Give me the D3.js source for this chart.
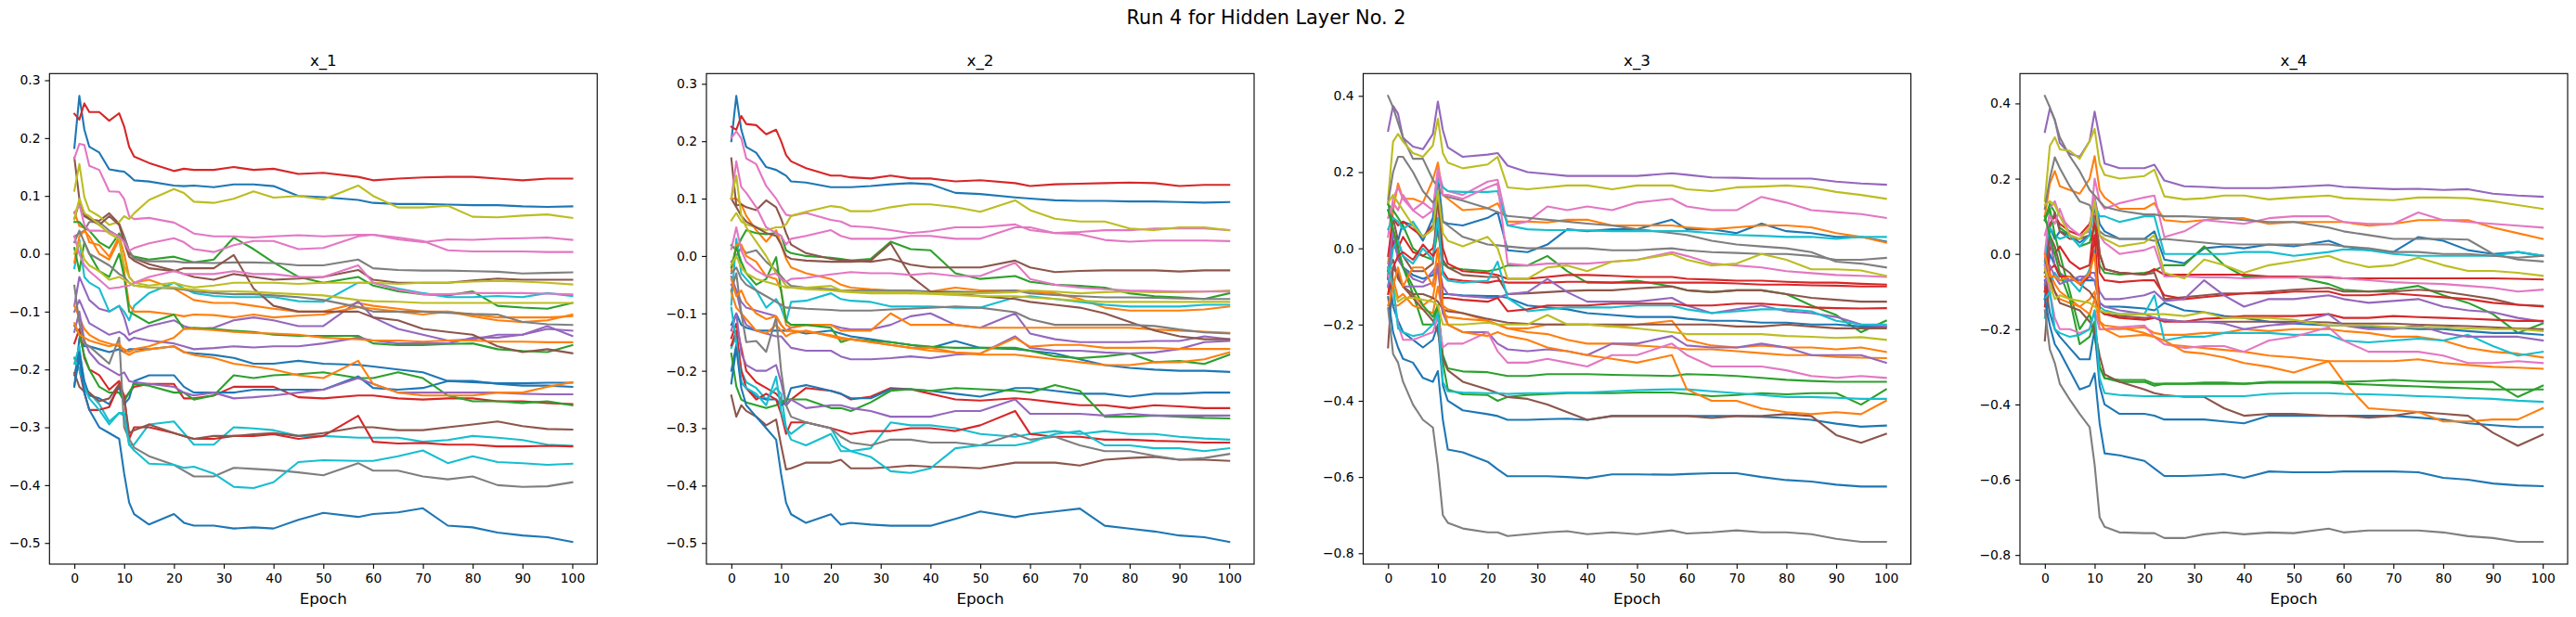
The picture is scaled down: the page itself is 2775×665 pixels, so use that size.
<!DOCTYPE html>
<html>
<head>
<meta charset="utf-8">
<script src="https://cdn.jsdelivr.net/npm/d3@7"></script>
<style>
  body { margin: 0; background: #fff; }
  text { font-family: "DejaVu Sans", sans-serif; }
</style>
</head>
<body>
<svg id="chart" width="2775" height="665"></svg>
<script>
const epochs = [0,1,2,3,5,7,9,10,11,12,15,20,22,24,28,32,36,40,45,50,57,60,65,70,75,80,85,90,95,100];
const xTicks = [0,10,20,30,40,50,60,70,80,90,100];
const yTicksSmall = [-0.5,-0.4,-0.3,-0.2,-0.1,0.0,0.1,0.2,0.3];
const yTicksLarge = [-0.8,-0.6,-0.4,-0.2,0.0,0.2,0.4];
const panelTitles = ["x_1","x_2","x_3","x_4"];
const figTitle = "Run 4 for Hidden Layer No. 2";

// 32 hidden units per panel, in plotting order (colour = tab10[i % 10])
const x1Units = [
  [0.183,0.273,0.215,0.185,0.175,0.146,0.143,0.142,0.135,0.127,0.125,0.118,0.117,0.118,0.115,0.12,0.12,0.117,0.1,0.098,0.093,0.088,0.086,0.086,0.085,0.084,0.084,0.082,0.081,0.082],
  [0.072,0.048,0.045,0.02,0.015,-0.005,0.03,0.0,-0.04,-0.05,-0.045,-0.06,-0.07,-0.08,-0.085,-0.085,-0.09,-0.095,-0.1,-0.1,-0.085,-0.09,-0.095,-0.1,-0.1,-0.105,-0.11,-0.11,-0.11,-0.108],
  [0.055,0.055,0.045,0.04,0.02,0.01,0.035,0.02,0.0,-0.005,-0.01,-0.005,-0.01,-0.015,-0.01,0.028,0.008,-0.015,-0.04,-0.05,-0.04,-0.055,-0.065,-0.07,-0.072,-0.065,-0.09,-0.093,-0.095,-0.085],
  [0.242,0.232,0.26,0.245,0.245,0.23,0.243,0.22,0.185,0.168,0.157,0.143,0.147,0.145,0.145,0.15,0.145,0.147,0.138,0.14,0.133,0.127,0.13,0.132,0.133,0.133,0.13,0.127,0.13,0.13],
  [-0.09,-0.04,-0.06,-0.08,-0.095,-0.1,-0.09,-0.11,-0.14,-0.135,-0.125,-0.115,-0.125,-0.13,-0.128,-0.115,-0.11,-0.115,-0.125,-0.125,-0.082,-0.11,-0.13,-0.14,-0.15,-0.148,-0.14,-0.14,-0.13,-0.133],
  [0.166,0.095,0.065,0.06,0.057,0.07,0.052,0.03,0.003,-0.008,-0.018,-0.029,-0.035,-0.04,-0.045,-0.035,-0.04,-0.045,-0.043,-0.04,-0.028,-0.045,-0.05,-0.05,-0.05,-0.046,-0.043,-0.045,-0.045,-0.045],
  [0.165,0.19,0.188,0.152,0.145,0.108,0.107,0.095,0.065,0.06,0.062,0.054,0.045,0.035,0.03,0.03,0.028,0.03,0.032,0.03,0.033,0.033,0.028,0.022,0.006,0.004,0.004,0.004,0.003,0.003],
  [0.03,0.035,0.04,0.055,0.055,0.04,0.03,0.03,0.005,-0.008,-0.013,-0.013,-0.015,-0.015,-0.016,-0.015,-0.015,-0.016,-0.02,-0.02,-0.01,-0.025,-0.028,-0.029,-0.029,-0.03,-0.031,-0.034,-0.033,-0.032],
  [0.109,0.155,0.098,0.075,0.065,0.05,0.055,0.065,0.06,0.07,0.093,0.112,0.105,0.09,0.088,0.095,0.108,0.097,0.1,0.094,0.118,0.1,0.08,0.08,0.083,0.064,0.063,0.066,0.068,0.062],
  [-0.025,0.025,-0.04,-0.05,-0.06,-0.1,-0.09,-0.1,-0.115,-0.09,-0.068,-0.05,-0.06,-0.068,-0.073,-0.075,-0.075,-0.075,-0.082,-0.083,-0.05,-0.05,-0.06,-0.068,-0.075,-0.075,-0.073,-0.075,-0.068,-0.073],
  [-0.23,-0.146,-0.16,-0.16,-0.165,-0.17,-0.165,-0.17,-0.165,-0.165,-0.165,-0.16,-0.17,-0.172,-0.175,-0.18,-0.19,-0.19,-0.185,-0.19,-0.192,-0.195,-0.2,-0.205,-0.22,-0.222,-0.224,-0.224,-0.223,-0.223],
  [-0.015,0.03,0.04,0.03,0.0,-0.01,0.025,-0.03,-0.088,-0.1,-0.1,-0.105,-0.108,-0.105,-0.106,-0.11,-0.105,-0.11,-0.107,-0.105,-0.092,-0.095,-0.1,-0.105,-0.1,-0.108,-0.115,-0.118,-0.115,-0.105],
  [0.01,-0.03,0.02,0.0,-0.03,-0.04,0.0,-0.04,-0.1,-0.105,-0.12,-0.105,-0.13,-0.128,-0.13,-0.133,-0.135,-0.14,-0.142,-0.142,-0.142,-0.155,-0.158,-0.158,-0.156,-0.155,-0.165,-0.168,-0.17,-0.158],
  [-0.155,-0.13,-0.18,-0.2,-0.21,-0.235,-0.22,-0.25,-0.24,-0.23,-0.225,-0.225,-0.25,-0.25,-0.245,-0.23,-0.23,-0.23,-0.248,-0.25,-0.245,-0.245,-0.25,-0.252,-0.25,-0.25,-0.255,-0.255,-0.258,-0.26],
  [-0.1,-0.08,-0.1,-0.12,-0.13,-0.14,-0.135,-0.14,-0.15,-0.145,-0.15,-0.155,-0.16,-0.165,-0.163,-0.16,-0.162,-0.16,-0.16,-0.155,-0.145,-0.15,-0.155,-0.155,-0.155,-0.145,-0.145,-0.14,-0.125,-0.142],
  [0.06,0.09,0.07,0.06,0.05,0.065,0.05,0.02,-0.005,-0.012,-0.025,-0.03,-0.025,-0.025,-0.025,-0.002,-0.06,-0.09,-0.1,-0.1,-0.1,-0.11,-0.115,-0.13,-0.135,-0.14,-0.16,-0.17,-0.165,-0.172],
  [0.07,0.085,0.05,0.04,0.04,0.038,0.03,0.02,0.005,0.01,0.018,0.027,0.02,0.008,0.003,0.015,0.022,0.022,0.008,0.01,0.03,0.033,0.025,0.02,0.025,0.024,0.026,0.027,0.028,0.024],
  [0.02,0.04,0.02,0.0,-0.01,-0.02,-0.035,-0.04,-0.05,-0.055,-0.058,-0.06,-0.062,-0.065,-0.068,-0.07,-0.07,-0.072,-0.075,-0.08,-0.092,-0.1,-0.1,-0.1,-0.102,-0.104,-0.105,-0.118,-0.122,-0.123],
  [0.06,0.095,0.07,0.065,0.05,0.035,0.025,-0.02,-0.04,-0.05,-0.055,-0.05,-0.055,-0.058,-0.055,-0.05,-0.05,-0.05,-0.052,-0.05,-0.05,-0.05,-0.052,-0.05,-0.05,-0.048,-0.047,-0.048,-0.05,-0.053],
  [-0.19,-0.16,-0.23,-0.24,-0.26,-0.29,-0.275,-0.28,-0.33,-0.33,-0.295,-0.29,-0.31,-0.33,-0.33,-0.3,-0.302,-0.305,-0.315,-0.315,-0.318,-0.318,-0.318,-0.325,-0.322,-0.315,-0.318,-0.322,-0.33,-0.332],
  [-0.21,-0.17,-0.22,-0.245,-0.25,-0.26,-0.23,-0.26,-0.25,-0.22,-0.21,-0.21,-0.23,-0.24,-0.24,-0.24,-0.235,-0.235,-0.235,-0.235,-0.212,-0.232,-0.235,-0.232,-0.22,-0.22,-0.225,-0.228,-0.228,-0.23],
  [-0.09,-0.11,-0.13,-0.14,-0.15,-0.155,-0.16,-0.165,-0.17,-0.165,-0.16,-0.145,-0.13,-0.13,-0.132,-0.135,-0.137,-0.138,-0.14,-0.145,-0.148,-0.15,-0.15,-0.152,-0.15,-0.15,-0.152,-0.152,-0.153,-0.153],
  [-0.124,-0.14,-0.176,-0.2,-0.23,-0.24,-0.24,-0.255,-0.24,-0.225,-0.228,-0.24,-0.24,-0.252,-0.245,-0.21,-0.215,-0.21,-0.208,-0.205,-0.215,-0.215,-0.205,-0.215,-0.245,-0.255,-0.255,-0.258,-0.255,-0.262],
  [-0.18,-0.2,-0.24,-0.27,-0.27,-0.265,-0.225,-0.245,-0.32,-0.3,-0.3,-0.31,-0.315,-0.32,-0.32,-0.315,-0.315,-0.312,-0.32,-0.315,-0.28,-0.325,-0.328,-0.327,-0.33,-0.33,-0.333,-0.333,-0.332,-0.333],
  [-0.135,-0.1,-0.15,-0.17,-0.19,-0.2,-0.21,-0.205,-0.22,-0.222,-0.225,-0.23,-0.24,-0.245,-0.24,-0.25,-0.248,-0.245,-0.24,-0.235,-0.215,-0.225,-0.24,-0.24,-0.24,-0.24,-0.24,-0.242,-0.243,-0.243],
  [-0.206,-0.23,-0.238,-0.24,-0.255,-0.25,-0.225,-0.25,-0.31,-0.305,-0.295,-0.31,-0.315,-0.32,-0.315,-0.315,-0.312,-0.31,-0.315,-0.31,-0.3,-0.3,-0.305,-0.305,-0.3,-0.295,-0.29,-0.298,-0.303,-0.304],
  [0.03,0.0,-0.02,-0.03,-0.045,-0.06,-0.058,-0.056,-0.055,-0.05,-0.04,-0.03,-0.035,-0.035,-0.035,-0.03,-0.035,-0.035,-0.04,-0.04,-0.02,-0.05,-0.062,-0.07,-0.07,-0.068,-0.068,-0.068,-0.069,-0.07],
  [-0.055,-0.12,-0.155,-0.16,-0.175,-0.19,-0.145,-0.3,-0.32,-0.335,-0.35,-0.365,-0.375,-0.385,-0.385,-0.37,-0.372,-0.374,-0.378,-0.383,-0.362,-0.375,-0.375,-0.385,-0.39,-0.385,-0.4,-0.403,-0.402,-0.395],
  [0.0,0.02,-0.01,-0.02,-0.03,-0.045,-0.04,-0.045,-0.05,-0.055,-0.058,-0.058,-0.06,-0.062,-0.065,-0.065,-0.066,-0.068,-0.07,-0.072,-0.08,-0.082,-0.083,-0.085,-0.085,-0.085,-0.085,-0.085,-0.085,-0.085],
  [-0.18,-0.2,-0.23,-0.25,-0.27,-0.295,-0.275,-0.275,-0.33,-0.34,-0.363,-0.365,-0.37,-0.368,-0.38,-0.403,-0.405,-0.395,-0.36,-0.357,-0.358,-0.358,-0.35,-0.34,-0.362,-0.35,-0.36,-0.362,-0.365,-0.363],
  [-0.228,-0.18,-0.24,-0.27,-0.3,-0.31,-0.32,-0.38,-0.43,-0.45,-0.468,-0.45,-0.465,-0.47,-0.47,-0.475,-0.473,-0.475,-0.46,-0.448,-0.455,-0.45,-0.447,-0.44,-0.47,-0.473,-0.482,-0.487,-0.49,-0.498],
  [-0.12,-0.14,-0.145,-0.15,-0.155,-0.16,-0.155,-0.17,-0.175,-0.17,-0.165,-0.16,-0.17,-0.175,-0.18,-0.19,-0.195,-0.2,-0.21,-0.215,-0.185,-0.225,-0.24,-0.245,-0.245,-0.245,-0.24,-0.24,-0.23,-0.222]
];

const x2Units = [
  [0.2,0.279,0.22,0.19,0.18,0.155,0.15,0.145,0.14,0.13,0.128,0.12,0.12,0.12,0.122,0.125,0.127,0.125,0.11,0.108,0.102,0.1,0.097,0.096,0.096,0.095,0.095,0.094,0.093,0.094],
  [0.1,0.1,0.09,0.07,0.045,0.025,0.045,0.02,-0.005,-0.02,-0.03,-0.04,-0.05,-0.055,-0.058,-0.06,-0.065,-0.062,-0.055,-0.06,-0.06,-0.062,-0.065,-0.075,-0.09,-0.095,-0.095,-0.095,-0.093,-0.088],
  [0.019,0.01,0.03,0.045,0.04,0.038,0.04,0.035,0.01,0.005,0.0,-0.003,-0.005,-0.008,-0.005,0.025,0.012,0.01,-0.03,-0.04,-0.035,-0.045,-0.05,-0.052,-0.055,-0.065,-0.07,-0.072,-0.075,-0.065],
  [0.225,0.22,0.244,0.23,0.228,0.212,0.22,0.2,0.176,0.165,0.153,0.14,0.14,0.137,0.135,0.14,0.135,0.135,0.13,0.132,0.127,0.122,0.125,0.126,0.127,0.128,0.127,0.122,0.124,0.124],
  [-0.036,-0.06,-0.08,-0.09,-0.095,-0.1,-0.105,-0.12,-0.13,-0.125,-0.12,-0.12,-0.125,-0.128,-0.128,-0.12,-0.105,-0.1,-0.12,-0.125,-0.1,-0.135,-0.145,-0.15,-0.15,-0.15,-0.148,-0.148,-0.14,-0.145],
  [0.17,0.088,0.09,0.085,0.08,0.097,0.085,0.065,0.04,0.02,0.005,-0.005,-0.007,-0.008,-0.01,-0.005,-0.015,-0.02,-0.02,-0.02,-0.008,-0.02,-0.028,-0.026,-0.025,-0.025,-0.025,-0.027,-0.025,-0.025],
  [0.206,0.217,0.205,0.17,0.16,0.122,0.1,0.085,0.072,0.07,0.075,0.063,0.06,0.052,0.05,0.045,0.04,0.043,0.05,0.05,0.055,0.045,0.04,0.042,0.045,0.045,0.048,0.048,0.048,0.045],
  [-0.01,0.0,0.015,0.005,0.01,-0.01,-0.025,-0.035,-0.045,-0.052,-0.055,-0.058,-0.06,-0.06,-0.06,-0.06,-0.06,-0.062,-0.062,-0.063,-0.06,-0.065,-0.068,-0.07,-0.072,-0.072,-0.073,-0.074,-0.075,-0.075],
  [0.062,0.075,0.06,0.055,0.05,0.045,0.05,0.05,0.055,0.07,0.077,0.087,0.085,0.078,0.078,0.085,0.09,0.09,0.085,0.077,0.097,0.08,0.065,0.06,0.06,0.048,0.045,0.05,0.05,0.045],
  [-0.085,0.03,-0.03,-0.04,-0.06,-0.09,-0.075,-0.09,-0.115,-0.08,-0.078,-0.065,-0.075,-0.078,-0.08,-0.088,-0.088,-0.088,-0.09,-0.09,-0.072,-0.07,-0.075,-0.08,-0.085,-0.088,-0.088,-0.088,-0.085,-0.085],
  [-0.12,-0.1,-0.12,-0.125,-0.13,-0.13,-0.13,-0.13,-0.13,-0.13,-0.135,-0.13,-0.135,-0.14,-0.145,-0.15,-0.155,-0.16,-0.148,-0.16,-0.162,-0.165,-0.17,-0.18,-0.19,-0.195,-0.198,-0.2,-0.2,-0.202],
  [-0.026,0.02,0.02,0.0,-0.01,-0.035,-0.04,-0.06,-0.12,-0.125,-0.12,-0.12,-0.13,-0.13,-0.13,-0.1,-0.12,-0.12,-0.12,-0.125,-0.125,-0.125,-0.125,-0.125,-0.125,-0.125,-0.128,-0.13,-0.132,-0.134],
  [-0.02,0.015,-0.01,-0.03,-0.05,-0.04,-0.002,-0.06,-0.113,-0.12,-0.12,-0.125,-0.15,-0.145,-0.148,-0.15,-0.155,-0.158,-0.16,-0.16,-0.16,-0.165,-0.175,-0.178,-0.175,-0.17,-0.185,-0.183,-0.188,-0.172],
  [-0.143,-0.118,-0.16,-0.2,-0.22,-0.23,-0.24,-0.25,-0.26,-0.25,-0.23,-0.235,-0.24,-0.25,-0.245,-0.23,-0.232,-0.24,-0.25,-0.252,-0.248,-0.25,-0.255,-0.26,-0.26,-0.265,-0.26,-0.262,-0.265,-0.265],
  [-0.05,-0.06,-0.1,-0.12,-0.13,-0.135,-0.14,-0.14,-0.15,-0.16,-0.165,-0.165,-0.175,-0.18,-0.18,-0.178,-0.175,-0.178,-0.172,-0.17,-0.14,-0.16,-0.165,-0.165,-0.168,-0.17,-0.168,-0.162,-0.15,-0.148],
  [0.1,0.085,0.07,0.06,0.05,0.04,0.035,0.02,0.0,-0.005,-0.008,-0.01,-0.01,-0.01,-0.008,0.022,-0.035,-0.062,-0.065,-0.07,-0.075,-0.08,-0.085,-0.09,-0.1,-0.115,-0.13,-0.14,-0.145,-0.145],
  [0.1,0.165,0.12,0.11,0.085,0.05,0.04,0.035,0.02,0.03,0.035,0.045,0.035,0.03,0.03,0.03,0.035,0.035,0.03,0.03,0.05,0.05,0.04,0.038,0.028,0.025,0.027,0.027,0.027,0.026],
  [-0.03,-0.02,-0.04,-0.05,-0.06,-0.07,-0.08,-0.085,-0.09,-0.09,-0.092,-0.094,-0.095,-0.095,-0.095,-0.093,-0.092,-0.09,-0.088,-0.09,-0.098,-0.11,-0.12,-0.12,-0.12,-0.12,-0.122,-0.128,-0.133,-0.135],
  [0.1,0.14,0.07,0.05,0.025,0.0,-0.03,-0.04,-0.052,-0.055,-0.055,-0.052,-0.06,-0.062,-0.063,-0.063,-0.063,-0.065,-0.065,-0.065,-0.063,-0.06,-0.062,-0.065,-0.063,-0.062,-0.063,-0.063,-0.062,-0.06],
  [-0.16,-0.14,-0.2,-0.22,-0.23,-0.25,-0.23,-0.24,-0.3,-0.31,-0.29,-0.3,-0.33,-0.34,-0.335,-0.29,-0.295,-0.295,-0.3,-0.31,-0.315,-0.31,-0.305,-0.31,-0.305,-0.31,-0.31,-0.315,-0.318,-0.32],
  [-0.2,-0.155,-0.22,-0.23,-0.245,-0.25,-0.25,-0.26,-0.255,-0.23,-0.225,-0.235,-0.24,-0.248,-0.248,-0.232,-0.232,-0.235,-0.24,-0.245,-0.23,-0.23,-0.235,-0.24,-0.24,-0.245,-0.24,-0.24,-0.238,-0.238],
  [-0.063,-0.09,-0.1,-0.11,-0.13,-0.135,-0.12,-0.13,-0.14,-0.135,-0.13,-0.14,-0.145,-0.145,-0.15,-0.155,-0.16,-0.165,-0.168,-0.17,-0.143,-0.158,-0.155,-0.155,-0.16,-0.16,-0.16,-0.162,-0.162,-0.162],
  [-0.17,-0.227,-0.25,-0.255,-0.26,-0.265,-0.26,-0.255,-0.25,-0.25,-0.25,-0.265,-0.265,-0.27,-0.255,-0.235,-0.232,-0.235,-0.23,-0.232,-0.235,-0.238,-0.225,-0.235,-0.28,-0.28,-0.278,-0.28,-0.282,-0.283],
  [-0.156,-0.13,-0.2,-0.23,-0.25,-0.24,-0.25,-0.275,-0.31,-0.29,-0.29,-0.3,-0.305,-0.31,-0.305,-0.305,-0.3,-0.3,-0.305,-0.295,-0.27,-0.31,-0.315,-0.315,-0.32,-0.32,-0.322,-0.323,-0.325,-0.325],
  [-0.13,-0.1,-0.17,-0.19,-0.2,-0.2,-0.19,-0.22,-0.26,-0.25,-0.265,-0.26,-0.26,-0.265,-0.27,-0.28,-0.28,-0.28,-0.27,-0.27,-0.25,-0.275,-0.275,-0.275,-0.278,-0.275,-0.278,-0.278,-0.278,-0.278],
  [-0.243,-0.28,-0.26,-0.27,-0.28,-0.295,-0.285,-0.33,-0.372,-0.37,-0.36,-0.36,-0.355,-0.37,-0.37,-0.368,-0.365,-0.367,-0.368,-0.37,-0.36,-0.36,-0.36,-0.365,-0.355,-0.352,-0.35,-0.355,-0.355,-0.357],
  [0.012,0.05,0.01,-0.01,-0.025,-0.035,-0.03,-0.04,-0.045,-0.04,-0.038,-0.032,-0.03,-0.028,-0.03,-0.03,-0.033,-0.03,-0.035,-0.035,-0.012,-0.04,-0.05,-0.055,-0.058,-0.06,-0.061,-0.062,-0.062,-0.062],
  [-0.06,-0.03,-0.1,-0.15,-0.148,-0.167,-0.107,-0.2,-0.26,-0.28,-0.29,-0.3,-0.315,-0.325,-0.33,-0.32,-0.32,-0.325,-0.325,-0.33,-0.31,-0.32,-0.315,-0.33,-0.34,-0.34,-0.348,-0.355,-0.352,-0.345],
  [-0.015,0.0,-0.02,-0.03,-0.04,-0.045,-0.05,-0.052,-0.055,-0.055,-0.058,-0.06,-0.062,-0.063,-0.065,-0.065,-0.065,-0.066,-0.068,-0.07,-0.07,-0.072,-0.075,-0.078,-0.08,-0.08,-0.08,-0.08,-0.08,-0.08],
  [-0.09,-0.15,-0.22,-0.23,-0.24,-0.26,-0.21,-0.27,-0.3,-0.32,-0.33,-0.31,-0.34,-0.34,-0.35,-0.375,-0.378,-0.37,-0.335,-0.33,-0.33,-0.325,-0.31,-0.305,-0.33,-0.33,-0.335,-0.335,-0.34,-0.335],
  [-0.222,-0.16,-0.23,-0.26,-0.28,-0.3,-0.32,-0.38,-0.43,-0.45,-0.465,-0.45,-0.468,-0.465,-0.468,-0.47,-0.47,-0.47,-0.458,-0.445,-0.455,-0.45,-0.445,-0.44,-0.47,-0.475,-0.48,-0.487,-0.49,-0.498],
  [-0.04,-0.07,-0.06,-0.08,-0.1,-0.11,-0.105,-0.12,-0.13,-0.13,-0.132,-0.138,-0.142,-0.145,-0.15,-0.155,-0.16,-0.16,-0.168,-0.172,-0.172,-0.175,-0.18,-0.185,-0.19,-0.19,-0.185,-0.185,-0.18,-0.168]
];

const x3Units = [
  [-0.08,0.04,0.02,0.07,0.06,0.02,0.08,0.19,0.07,0.065,0.06,0.08,0.095,-0.005,-0.01,0.01,0.05,0.045,0.05,0.05,0.075,0.05,0.05,0.04,0.065,0.045,0.04,0.03,0.03,0.018],
  [-0.04,0.1,0.17,0.13,0.13,0.12,0.18,0.225,0.14,0.13,0.1,0.105,0.118,0.07,0.07,0.068,0.075,0.075,0.06,0.06,0.06,0.055,0.05,0.055,0.06,0.06,0.055,0.04,0.03,0.015],
  [0.115,0.1,0.08,0.06,0.0,-0.02,-0.03,0.05,-0.04,-0.05,-0.055,-0.06,-0.055,-0.045,-0.045,-0.02,-0.06,-0.09,-0.09,-0.085,-0.1,-0.11,-0.115,-0.11,-0.11,-0.12,-0.15,-0.175,-0.22,-0.19],
  [-0.02,0.08,0.06,0.07,0.05,0.03,0.06,0.12,0.0,-0.04,-0.06,-0.065,-0.07,-0.08,-0.08,-0.075,-0.07,-0.07,-0.072,-0.075,-0.075,-0.08,-0.082,-0.085,-0.085,-0.088,-0.09,-0.09,-0.093,-0.095],
  [0.308,0.374,0.353,0.29,0.267,0.26,0.3,0.385,0.31,0.265,0.24,0.246,0.25,0.217,0.2,0.195,0.19,0.19,0.19,0.19,0.197,0.193,0.186,0.185,0.183,0.183,0.183,0.175,0.17,0.167],
  [0.1,0.08,0.02,-0.02,-0.06,-0.06,-0.04,0.14,-0.03,-0.05,-0.07,-0.075,-0.075,-0.12,-0.118,-0.115,-0.112,-0.11,-0.11,-0.105,-0.1,-0.11,-0.115,-0.11,-0.11,-0.12,-0.13,-0.135,-0.14,-0.14],
  [0.03,0.13,0.16,0.13,0.1,0.12,0.1,0.21,0.16,0.15,0.14,0.175,0.18,0.06,0.07,0.11,0.1,0.11,0.1,0.12,0.13,0.11,0.1,0.1,0.135,0.12,0.1,0.095,0.09,0.08],
  [0.4,0.37,0.33,0.29,0.235,0.235,0.18,0.16,0.14,0.135,0.125,0.105,0.095,0.085,0.08,0.075,0.07,0.065,0.06,0.05,0.04,0.035,0.02,0.01,0.005,0.0,-0.01,-0.035,-0.04,-0.05],
  [0.13,0.28,0.3,0.28,0.25,0.24,0.27,0.34,0.25,0.225,0.21,0.22,0.24,0.16,0.155,0.16,0.165,0.165,0.155,0.165,0.165,0.155,0.15,0.16,0.162,0.165,0.16,0.148,0.14,0.13],
  [0.05,0.08,0.07,0.05,0.07,0.03,0.05,0.18,0.16,0.15,0.148,0.148,0.15,0.06,0.05,0.048,0.048,0.047,0.045,0.045,0.045,0.045,0.04,0.035,0.033,0.03,0.03,0.025,0.03,0.03],
  [-0.07,0.02,-0.02,-0.05,-0.07,-0.08,-0.07,-0.05,-0.12,-0.12,-0.123,-0.125,-0.125,-0.13,-0.15,-0.155,-0.16,-0.17,-0.175,-0.18,-0.18,-0.185,-0.19,-0.19,-0.195,-0.195,-0.2,-0.2,-0.205,-0.205],
  [-0.1,-0.15,-0.15,-0.14,-0.12,-0.15,-0.13,-0.05,-0.15,-0.16,-0.17,-0.19,-0.2,-0.21,-0.21,-0.2,-0.2,-0.2,-0.205,-0.2,-0.19,-0.24,-0.255,-0.26,-0.255,-0.26,-0.26,-0.265,-0.26,-0.272],
  [0.12,0.05,0.0,-0.05,-0.12,-0.2,-0.2,-0.15,-0.28,-0.315,-0.323,-0.325,-0.33,-0.335,-0.335,-0.33,-0.33,-0.33,-0.332,-0.333,-0.335,-0.33,-0.332,-0.335,-0.34,-0.345,-0.348,-0.35,-0.35,-0.35],
  [-0.08,0.02,0.0,0.03,-0.01,-0.02,0.0,0.06,-0.06,-0.08,-0.085,-0.09,-0.085,-0.09,-0.09,-0.09,-0.088,-0.088,-0.09,-0.09,-0.09,-0.09,-0.09,-0.092,-0.095,-0.095,-0.097,-0.098,-0.1,-0.1],
  [-0.06,0.05,-0.03,-0.05,-0.08,-0.09,-0.06,-0.04,-0.1,-0.12,-0.125,-0.13,-0.13,-0.12,-0.115,-0.08,-0.115,-0.14,-0.14,-0.14,-0.13,-0.15,-0.17,-0.16,-0.15,-0.165,-0.17,-0.18,-0.2,-0.205],
  [-0.06,-0.03,-0.08,-0.1,-0.12,-0.12,-0.13,-0.14,-0.16,-0.165,-0.17,-0.185,-0.19,-0.195,-0.198,-0.2,-0.2,-0.2,-0.2,-0.2,-0.2,-0.2,-0.2,-0.205,-0.205,-0.2,-0.205,-0.21,-0.21,-0.21],
  [0.08,0.12,0.1,0.14,0.1,0.08,0.1,0.2,0.14,0.14,0.13,0.16,0.17,-0.04,-0.045,-0.04,-0.04,-0.04,-0.035,-0.03,-0.01,-0.02,-0.04,-0.045,-0.05,-0.06,-0.065,-0.07,-0.072,-0.075],
  [0.12,0.2,0.24,0.24,0.2,0.15,0.12,0.14,0.07,0.06,0.03,0.01,0.008,0.005,0.0,0.0,0.0,0.0,-0.005,-0.005,0.0,-0.005,-0.01,-0.012,-0.015,-0.015,-0.02,-0.03,-0.03,-0.025],
  [0.12,0.14,0.12,0.1,0.06,0.03,0.05,0.15,0.04,0.02,0.005,0.03,0.0,-0.08,-0.08,-0.05,-0.045,-0.06,-0.035,-0.03,-0.015,-0.03,-0.045,-0.04,-0.015,-0.03,-0.055,-0.055,-0.058,-0.072],
  [-0.1,0.0,0.02,-0.02,-0.04,0.0,-0.03,0.08,-0.07,-0.085,-0.09,-0.085,-0.035,-0.13,-0.165,-0.16,-0.155,-0.155,-0.155,-0.15,-0.15,-0.16,-0.17,-0.165,-0.16,-0.16,-0.165,-0.19,-0.2,-0.2],
  [-0.05,-0.153,-0.19,-0.22,-0.24,-0.26,-0.24,-0.2,-0.36,-0.4,-0.425,-0.435,-0.44,-0.45,-0.45,-0.448,-0.447,-0.45,-0.44,-0.44,-0.44,-0.44,-0.44,-0.44,-0.442,-0.445,-0.45,-0.46,-0.468,-0.465],
  [-0.05,-0.08,-0.13,-0.12,-0.15,-0.16,-0.17,-0.1,-0.17,-0.18,-0.185,-0.19,-0.2,-0.21,-0.22,-0.225,-0.24,-0.25,-0.25,-0.255,-0.26,-0.265,-0.265,-0.27,-0.275,-0.28,-0.28,-0.285,-0.287,-0.288],
  [0.1,0.05,0.0,-0.05,-0.1,-0.15,-0.18,-0.15,-0.3,-0.37,-0.383,-0.385,-0.4,-0.39,-0.385,-0.382,-0.38,-0.38,-0.38,-0.378,-0.378,-0.382,-0.388,-0.385,-0.38,-0.383,-0.38,-0.38,-0.41,-0.37],
  [-0.12,-0.05,-0.02,-0.01,-0.03,0.01,-0.02,0.0,-0.13,-0.13,-0.135,-0.14,-0.13,-0.165,-0.16,-0.15,-0.15,-0.15,-0.145,-0.145,-0.145,-0.15,-0.15,-0.145,-0.145,-0.15,-0.155,-0.157,-0.158,-0.157],
  [-0.1,-0.05,-0.06,-0.1,-0.1,-0.1,-0.09,-0.05,-0.17,-0.2,-0.22,-0.22,-0.25,-0.265,-0.27,-0.265,-0.27,-0.28,-0.25,-0.25,-0.23,-0.255,-0.26,-0.26,-0.25,-0.26,-0.28,-0.28,-0.28,-0.3],
  [-0.26,-0.05,-0.07,-0.1,-0.13,-0.16,-0.19,-0.22,-0.29,-0.32,-0.35,-0.37,-0.38,-0.39,-0.395,-0.41,-0.43,-0.45,-0.44,-0.44,-0.44,-0.44,-0.445,-0.44,-0.44,-0.435,-0.44,-0.49,-0.51,-0.487],
  [-0.07,-0.1,-0.2,-0.24,-0.24,-0.23,-0.22,-0.18,-0.26,-0.25,-0.25,-0.22,-0.27,-0.3,-0.3,-0.29,-0.3,-0.31,-0.28,-0.28,-0.25,-0.28,-0.31,-0.31,-0.31,-0.32,-0.335,-0.34,-0.335,-0.34],
  [-0.157,-0.277,-0.3,-0.35,-0.41,-0.45,-0.47,-0.57,-0.7,-0.72,-0.735,-0.745,-0.745,-0.755,-0.75,-0.745,-0.742,-0.75,-0.745,-0.75,-0.74,-0.748,-0.745,-0.74,-0.745,-0.745,-0.75,-0.762,-0.77,-0.77],
  [-0.05,-0.1,-0.14,-0.13,-0.13,-0.135,-0.14,-0.15,-0.2,-0.2,-0.2,-0.195,-0.2,-0.2,-0.2,-0.175,-0.2,-0.2,-0.205,-0.21,-0.22,-0.225,-0.225,-0.225,-0.225,-0.23,-0.232,-0.235,-0.233,-0.24],
  [-0.05,-0.1,-0.21,-0.22,-0.23,-0.225,-0.2,-0.17,-0.35,-0.375,-0.378,-0.38,-0.38,-0.382,-0.38,-0.38,-0.378,-0.378,-0.375,-0.372,-0.37,-0.37,-0.375,-0.38,-0.385,-0.39,-0.39,-0.392,-0.395,-0.395],
  [-0.128,-0.22,-0.26,-0.29,-0.3,-0.34,-0.35,-0.322,-0.45,-0.528,-0.535,-0.56,-0.58,-0.598,-0.598,-0.598,-0.6,-0.603,-0.593,-0.593,-0.594,-0.592,-0.59,-0.59,-0.6,-0.608,-0.612,-0.62,-0.625,-0.625],
  [-0.15,-0.1,-0.05,-0.1,-0.05,-0.05,-0.1,0.0,-0.15,-0.2,-0.22,-0.23,-0.22,-0.23,-0.24,-0.26,-0.27,-0.28,-0.29,-0.3,-0.28,-0.37,-0.4,-0.4,-0.42,-0.43,-0.435,-0.43,-0.435,-0.4]
];

const x4Units = [
  [-0.1,0.07,0.04,0.06,0.05,0.03,0.05,0.15,0.08,0.06,0.04,0.04,0.06,-0.015,-0.025,0.015,0.02,0.015,0.025,0.02,0.035,0.02,0.01,0.005,0.045,0.035,0.01,0.0,0.005,-0.005],
  [0.1,0.187,0.22,0.18,0.17,0.16,0.2,0.26,0.17,0.15,0.12,0.12,0.135,0.09,0.085,0.09,0.095,0.095,0.08,0.085,0.085,0.085,0.075,0.08,0.09,0.09,0.09,0.07,0.055,0.04],
  [0.09,0.133,0.11,0.07,0.05,0.02,0.03,0.08,-0.03,-0.05,-0.055,-0.05,-0.045,-0.03,-0.03,0.02,-0.03,-0.06,-0.06,-0.06,-0.08,-0.095,-0.1,-0.095,-0.085,-0.11,-0.13,-0.16,-0.21,-0.185],
  [-0.02,0.08,0.1,0.08,0.06,0.05,0.08,0.13,0.0,-0.04,-0.05,-0.055,-0.04,-0.055,-0.055,-0.055,-0.055,-0.055,-0.06,-0.06,-0.062,-0.065,-0.065,-0.065,-0.065,-0.065,-0.065,-0.065,-0.066,-0.068],
  [0.324,0.386,0.357,0.295,0.266,0.258,0.3,0.378,0.31,0.24,0.228,0.228,0.237,0.195,0.18,0.178,0.175,0.175,0.175,0.178,0.183,0.178,0.175,0.172,0.173,0.17,0.172,0.16,0.155,0.152],
  [0.09,0.07,0.11,0.06,0.04,0.04,0.05,0.15,0.0,-0.04,-0.05,-0.055,-0.05,-0.12,-0.115,-0.11,-0.105,-0.105,-0.1,-0.095,-0.09,-0.1,-0.1,-0.1,-0.095,-0.1,-0.11,-0.12,-0.135,-0.138],
  [0.0,0.12,0.14,0.1,0.07,0.05,0.06,0.2,0.14,0.12,0.135,0.15,0.155,0.045,0.06,0.09,0.085,0.08,0.095,0.1,0.1,0.085,0.08,0.08,0.11,0.09,0.085,0.08,0.075,0.07],
  [0.42,0.39,0.355,0.31,0.26,0.22,0.17,0.155,0.14,0.125,0.115,0.105,0.105,0.1,0.1,0.098,0.095,0.09,0.085,0.085,0.07,0.06,0.05,0.04,0.04,0.04,0.038,0.0,-0.015,-0.02],
  [0.14,0.287,0.31,0.278,0.274,0.253,0.3,0.332,0.24,0.21,0.2,0.207,0.224,0.153,0.145,0.148,0.155,0.155,0.145,0.15,0.155,0.148,0.145,0.143,0.15,0.15,0.148,0.14,0.13,0.12],
  [-0.03,0.07,0.05,0.04,0.05,0.02,0.05,0.13,0.1,0.1,0.085,0.1,0.1,0.0,0.0,0.0,0.0,0.005,0.005,-0.005,0.005,0.012,0.01,0.0,-0.005,-0.005,-0.005,-0.005,0.005,-0.005],
  [-0.12,0.0,-0.03,-0.06,-0.06,-0.07,-0.07,-0.07,-0.13,-0.14,-0.14,-0.145,-0.15,-0.13,-0.15,-0.155,-0.165,-0.17,-0.18,-0.185,-0.19,-0.19,-0.195,-0.195,-0.2,-0.2,-0.205,-0.21,-0.21,-0.215],
  [-0.1,-0.05,-0.08,-0.1,-0.12,-0.14,-0.12,-0.1,-0.2,-0.2,-0.2,-0.195,-0.21,-0.215,-0.215,-0.21,-0.21,-0.2,-0.205,-0.2,-0.2,-0.205,-0.21,-0.22,-0.22,-0.23,-0.25,-0.26,-0.265,-0.275],
  [0.09,0.12,0.05,0.0,-0.1,-0.2,-0.16,-0.22,-0.3,-0.33,-0.335,-0.335,-0.345,-0.345,-0.345,-0.342,-0.342,-0.345,-0.34,-0.34,-0.34,-0.34,-0.338,-0.335,-0.338,-0.34,-0.34,-0.34,-0.38,-0.35],
  [-0.1,0.02,0.0,0.02,-0.02,-0.04,-0.03,0.1,-0.05,-0.07,-0.075,-0.07,-0.07,-0.11,-0.12,-0.115,-0.11,-0.105,-0.105,-0.1,-0.1,-0.11,-0.11,-0.105,-0.11,-0.115,-0.12,-0.13,-0.135,-0.14],
  [-0.05,0.04,-0.03,-0.05,-0.07,-0.07,-0.05,-0.05,-0.1,-0.12,-0.12,-0.11,-0.1,-0.125,-0.12,-0.07,-0.11,-0.14,-0.12,-0.12,-0.11,-0.12,-0.13,-0.125,-0.12,-0.14,-0.15,-0.155,-0.17,-0.18],
  [-0.05,0.05,0.02,-0.03,-0.05,-0.08,-0.1,-0.12,-0.15,-0.16,-0.165,-0.17,-0.17,-0.175,-0.18,-0.18,-0.18,-0.18,-0.18,-0.18,-0.182,-0.185,-0.185,-0.185,-0.188,-0.19,-0.192,-0.195,-0.198,-0.2],
  [0.05,0.1,0.08,0.12,0.05,0.04,0.07,0.15,0.05,0.03,0.0,0.01,0.02,-0.06,-0.06,-0.062,-0.062,-0.065,-0.063,-0.063,-0.06,-0.065,-0.07,-0.075,-0.078,-0.08,-0.085,-0.09,-0.1,-0.095],
  [0.12,0.2,0.257,0.228,0.18,0.14,0.13,0.09,0.06,0.05,0.04,0.04,0.035,0.04,0.035,0.03,0.025,0.025,0.025,0.025,0.025,0.02,0.015,0.005,0.005,0.0,0.0,-0.005,-0.01,-0.005],
  [0.13,0.14,0.13,0.1,0.05,0.04,0.07,0.14,0.05,0.04,0.02,0.03,0.05,-0.05,-0.065,-0.015,-0.03,-0.05,-0.03,-0.02,-0.005,-0.02,-0.035,-0.03,-0.01,-0.03,-0.045,-0.045,-0.05,-0.058],
  [-0.17,-0.08,-0.05,-0.07,-0.07,-0.1,-0.04,0.01,-0.14,-0.15,-0.16,-0.16,-0.11,-0.23,-0.22,-0.22,-0.21,-0.21,-0.21,-0.215,-0.215,-0.23,-0.235,-0.23,-0.225,-0.23,-0.215,-0.245,-0.27,-0.26],
  [-0.07,-0.157,-0.2,-0.22,-0.25,-0.28,-0.28,-0.2,-0.35,-0.4,-0.425,-0.425,-0.43,-0.44,-0.44,-0.44,-0.445,-0.45,-0.43,-0.43,-0.43,-0.43,-0.43,-0.43,-0.435,-0.44,-0.45,-0.455,-0.46,-0.46],
  [-0.06,-0.08,-0.1,-0.12,-0.13,-0.14,-0.16,-0.12,-0.18,-0.19,-0.195,-0.21,-0.22,-0.24,-0.245,-0.25,-0.255,-0.26,-0.27,-0.275,-0.285,-0.285,-0.285,-0.285,-0.28,-0.29,-0.295,-0.3,-0.302,-0.305],
  [0.1,0.05,0.0,-0.05,-0.12,-0.24,-0.22,-0.18,-0.3,-0.33,-0.34,-0.34,-0.35,-0.345,-0.345,-0.345,-0.345,-0.345,-0.342,-0.342,-0.342,-0.345,-0.347,-0.35,-0.352,-0.355,-0.357,-0.36,-0.36,-0.36],
  [-0.14,-0.04,-0.03,-0.06,-0.06,-0.08,-0.06,0.05,-0.15,-0.16,-0.17,-0.175,-0.17,-0.18,-0.18,-0.172,-0.17,-0.165,-0.165,-0.165,-0.16,-0.17,-0.17,-0.165,-0.168,-0.17,-0.172,-0.175,-0.178,-0.178],
  [-0.08,-0.03,-0.06,-0.08,-0.07,-0.06,-0.06,-0.07,-0.13,-0.14,-0.15,-0.16,-0.17,-0.175,-0.18,-0.18,-0.185,-0.2,-0.19,-0.185,-0.16,-0.19,-0.2,-0.2,-0.19,-0.21,-0.22,-0.22,-0.22,-0.23],
  [-0.23,-0.06,-0.1,-0.13,-0.14,-0.15,-0.18,-0.2,-0.27,-0.32,-0.34,-0.36,-0.37,-0.375,-0.38,-0.38,-0.41,-0.43,-0.425,-0.425,-0.43,-0.43,-0.435,-0.43,-0.42,-0.425,-0.43,-0.475,-0.51,-0.48],
  [-0.03,-0.1,-0.17,-0.2,-0.2,-0.21,-0.2,-0.15,-0.2,-0.2,-0.195,-0.19,-0.22,-0.24,-0.25,-0.245,-0.245,-0.26,-0.23,-0.22,-0.195,-0.23,-0.26,-0.26,-0.26,-0.27,-0.29,-0.29,-0.285,-0.29],
  [-0.15,-0.254,-0.29,-0.345,-0.387,-0.425,-0.46,-0.56,-0.7,-0.725,-0.74,-0.742,-0.742,-0.755,-0.755,-0.745,-0.74,-0.745,-0.74,-0.742,-0.73,-0.74,-0.735,-0.735,-0.735,-0.74,-0.75,-0.755,-0.765,-0.765],
  [-0.04,-0.08,-0.12,-0.11,-0.12,-0.125,-0.13,-0.14,-0.15,-0.155,-0.16,-0.16,-0.16,-0.16,-0.165,-0.155,-0.17,-0.17,-0.17,-0.175,-0.19,-0.19,-0.19,-0.195,-0.195,-0.195,-0.198,-0.2,-0.2,-0.205],
  [-0.12,-0.1,-0.2,-0.21,-0.22,-0.215,-0.2,-0.15,-0.33,-0.37,-0.375,-0.378,-0.378,-0.378,-0.378,-0.378,-0.378,-0.378,-0.372,-0.37,-0.37,-0.372,-0.373,-0.375,-0.378,-0.38,-0.383,-0.385,-0.39,-0.393],
  [-0.12,-0.19,-0.24,-0.26,-0.31,-0.36,-0.35,-0.317,-0.45,-0.53,-0.535,-0.55,-0.57,-0.59,-0.59,-0.588,-0.585,-0.595,-0.578,-0.58,-0.58,-0.578,-0.578,-0.578,-0.58,-0.595,-0.6,-0.61,-0.615,-0.617],
  [0.0,-0.06,-0.06,-0.07,-0.06,-0.08,-0.05,0.0,-0.18,-0.2,-0.22,-0.215,-0.22,-0.23,-0.26,-0.265,-0.275,-0.29,-0.3,-0.315,-0.285,-0.34,-0.41,-0.415,-0.42,-0.445,-0.445,-0.44,-0.44,-0.41]
];

const panels = [
  { title: panelTitles[0], units: x1Units, yTicks: yTicksSmall },
  { title: panelTitles[1], units: x2Units, yTicks: yTicksSmall },
  { title: panelTitles[2], units: x3Units, yTicks: yTicksLarge },
  { title: panelTitles[3], units: x4Units, yTicks: yTicksLarge }
];

const svg = d3.select("#chart");
const colors = d3.schemeCategory10;

// layout (pixels)
const panelLeft = [53.3, 761, 1468.5, 2176];
const panelW = 590, panelTop = 79.3, panelH = 528.7;
const tickLen = 4.9, tickPad = 4.9;

svg.append("rect").attr("width", 2775).attr("height", 665).attr("fill", "#fff");

svg.append("text")
  .attr("x", 1364).attr("y", 26)
  .attr("text-anchor", "middle")
  .style("font-size", "20.8px")
  .text(figTitle);

panels.forEach((p, k) => {
  const g = svg.append("g").attr("transform", `translate(${panelLeft[k]},${panelTop})`);

  const x = d3.scaleLinear().domain([-5, 105]).range([0, panelW]);
  // matplotlib-style 5% margin around the data
  const lo = d3.min(p.units, s => d3.min(s)), hi = d3.max(p.units, s => d3.max(s));
  const pad = (hi - lo) * 0.05;
  const y = d3.scaleLinear().domain([lo - pad, hi + pad]).range([panelH, 0]);

  const line = d3.line()
    .x((d, i) => x(epochs[i]))
    .y(d => y(d))
    .curve(d3.curveLinear);

  g.append("g")
    .selectAll("path")
    .data(p.units)
    .enter()
    .append("path")
    .attr("d", d => line(d))
    .attr("fill", "none")
    .attr("stroke", (d, i) => colors[i % 10])
    .attr("stroke-width", 2.1)
    .attr("stroke-linejoin", "round")
    .attr("stroke-linecap", "square");

  // x axis
  const gx = g.append("g")
    .attr("transform", `translate(0,${panelH})`)
    .call(d3.axisBottom(x).tickValues(xTicks).tickSize(tickLen).tickPadding(tickPad).tickFormat(d3.format("d")));
  // y axis
  const gy = g.append("g")
    .call(d3.axisLeft(y).tickValues(p.yTicks).tickSize(tickLen).tickPadding(tickPad).tickFormat(d3.format(".1f")));

  [gx, gy].forEach(a => {
    a.select(".domain").remove();
    a.selectAll(".tick line").attr("stroke", "#000").attr("stroke-width", 1.1);
    a.selectAll(".tick text")
      .attr("fill", "#000")
      .style("font-family", "'DejaVu Sans', sans-serif")
      .style("font-size", "13.9px");
  });

  // frame
  g.append("rect")
    .attr("width", panelW).attr("height", panelH)
    .attr("fill", "none").attr("stroke", "#000").attr("stroke-width", 1.1);

  g.append("text")
    .attr("x", panelW / 2).attr("y", -8.3)
    .attr("text-anchor", "middle")
    .style("font-size", "16.7px")
    .text(p.title);

  g.append("text")
    .attr("x", panelW / 2).attr("y", panelH + 43.5)
    .attr("text-anchor", "middle")
    .style("font-size", "16.7px")
    .text("Epoch");
});
</script>
</body>
</html>
